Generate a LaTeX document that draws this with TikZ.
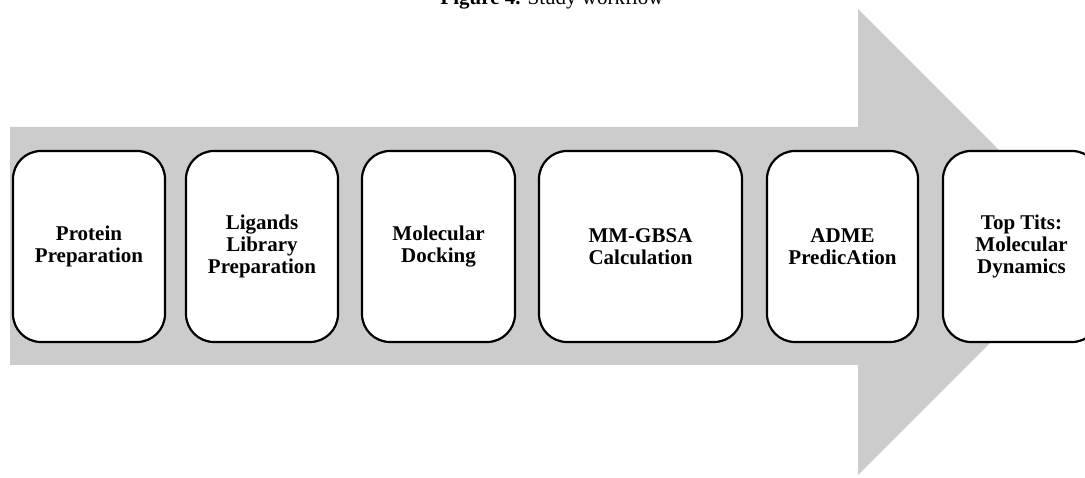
\documentclass[tikz,border=0pt]{standalone}
\usepackage{fontspec}
\setmainfont{Liberation Serif}
\usetikzlibrary{calc}

\tikzset{
  stage/.style={draw, fill=white, line width=2.2pt, rounded corners=28pt,
    minimum height=191pt, inner sep=0pt, align=center,
    font=\bfseries\fontsize{21}{22}\selectfont},
}

\begin{document}
\begin{tikzpicture}[x=1pt, y=1pt, line join=round]
  \useasboundingbox (0,0) rectangle (1085,477);
  % --- title (cut at the top edge) ---
  \node[anchor=base, inner sep=0pt, font=\fontsize{21}{22}\selectfont] (title) at (552,472)
    {\textbf{Figure 4.} Study workflow};
  % --- grey arrow behind the stages ---
  \coordinate (T) at (1091,235);
  \fill[black!20] (10,350) -- (858,350) -- (858,468) -- (T) -- (858,2)
    -- (858,112) -- (10,112) -- cycle;
  % --- stages ---
  \node[stage, minimum width=152pt] (prot) at (89,230.5) {Protein\\Preparation};
  \node[stage, minimum width=152pt] (lig) at (262,230.5) {Ligands\\Library\\Preparation};
  \node[stage, minimum width=153pt] (dock) at (438.5,230.5) {Molecular\\Docking};
  \node[stage, minimum width=203pt] (mmgbsa) at (640.5,230.5) {MM-GBSA\\Calculation};
  \node[stage, minimum width=151pt] (adme) at (842.5,230.5) {ADME\\PredicAtion};
  \node[stage, minimum width=157pt] (md) at (1021.5,230.5) {Top Tits:\\Molecular\\Dynamics};
\end{tikzpicture}
\end{document}
